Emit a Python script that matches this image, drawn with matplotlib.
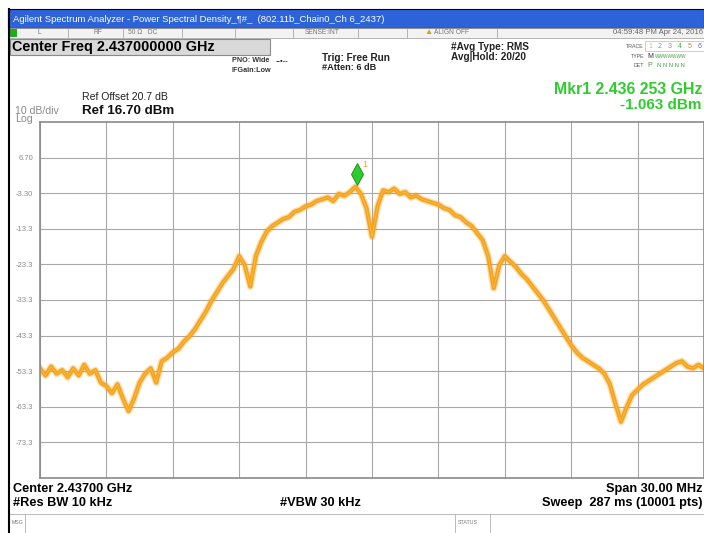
import matplotlib
matplotlib.use("Agg")
import matplotlib.pyplot as plt
import matplotlib.transforms as mtransforms
from matplotlib.patches import Rectangle
import numpy as np

W, H = 704, 533

# PSD trace, every 0.25 MHz starting at 2.422 GHz
offset_mhz = np.arange(0, 30.01, 0.25)
level_dbm = [
    -52.5, -54.5, -52.0, -54.0, -53.0, -55.0, -52.5, -54.5, -51.5, -54.0,
    -53.0, -56.5, -57.5, -59.5, -57.0, -61.0, -64.5, -61.0, -56.5, -54.0,
    -52.5, -56.5, -50.5, -49.5, -48.0, -47.0, -45.0, -43.5, -41.5, -39.0,
    -36.5, -33.5, -31.0, -28.5, -26.5, -24.5, -21.0, -23.5, -29.5, -21.0,
    -17.0, -14.0, -12.5, -11.5, -10.5, -10.0, -8.5, -8.0, -7.0, -6.5,
    -5.5, -5.0, -4.5, -5.5, -3.5, -4.0, -3.0, -1.5, -3.5, -7.5,
    -15.5, -7.0, -2.5, -3.0, -2.0, -3.5, -3.0, -4.5, -4.0, -5.0,
    -5.5, -6.0, -6.5, -7.5, -8.0, -9.5, -10.0, -11.5, -12.5, -14.5,
    -16.5, -21.0, -30.0, -23.5, -21.0, -22.5, -24.0, -26.0, -27.5, -29.5,
    -31.5, -33.5, -36.0, -38.5, -41.0, -43.5, -46.0, -48.0, -49.5, -50.5,
    -51.5, -52.5, -54.0, -57.0, -62.5, -67.5, -63.5, -60.0, -58.5, -57.0,
    -56.0, -55.0, -54.0, -53.0, -52.0, -51.0, -50.5, -52.0, -52.5, -51.5,
    -52.5,
]

center_ghz = 2.437
span_mhz = 30.0
ref_dbm = 16.70
db_per_div = 10
ytick_labels = ["6.70", "-3.30", "-13.3", "-23.3", "-33.3", "-43.3", "-53.3", "-63.3", "-73.3"]
mkr_freq_ghz = 2.436253
mkr_level_dbm = -1.063

TRACE = "#f5a31a"
GREEN = "#2ecc2e"
GRID = "#a8a8a8"
FONT = "Liberation Sans"

plt.rcParams["font.family"] = [FONT, "DejaVu Sans"]

fig = plt.figure(figsize=(W / 100, H / 100), dpi=100)
fig.patch.set_facecolor("white")


def fx(x):
    return x / W


def fy(y):
    return 1 - y / H


def txt(x, y, s, **kw):
    kw.setdefault("va", "center")
    fig.text(fx(x), fy(y), s, **kw)


def box(x0, y0, x1, y1, **kw):
    fig.patches.append(Rectangle((fx(x0), fy(y1)), (x1 - x0) / W, (y1 - y0) / H,
                                 transform=fig.transFigure, **kw))


# window chrome
box(8, 9, 704, 28, facecolor="#2d63d9", edgecolor="black", lw=0.8)
txt(13, 19, "Agilent Spectrum Analyzer - Power Spectral Density_\u00b6#_  (802.11b_Chain0_Ch 6_2437)",
    color="white", fontsize=6.8)
box(8, 28, 704, 38, facecolor="#f2f2f2", edgecolor="#9a9a9a", lw=0.5)
box(10, 29.5, 17, 36.5, facecolor="#22aa22", edgecolor="none")
for sx in (68, 123, 182, 235, 293, 358, 407, 497):
    fig.add_artist(plt.Line2D([fx(sx), fx(sx)], [fy(29), fy(37)], color="#9a9a9a", lw=0.5))
txt(38, 33, "L", color="#777777", fontsize=4.8)
txt(93, 33, "RF", color="#777777", fontsize=4.8)
txt(128, 33, "50 \u03a9   DC", color="#777777", fontsize=4.8)
txt(305, 33, "SENSE:INT", color="#777777", fontsize=4.8)
txt(424, 33, "\u25b2", color="#d9a400", fontsize=6)
txt(434, 33, "ALIGN OFF", color="#777777", fontsize=4.8)
txt(703, 33, "04:59:48 PM Apr 24, 2016", color="#666666", fontsize=5.6, ha="right")
fig.add_artist(plt.Line2D([fx(8.5), fx(8.5)], [fy(9), fy(533)], color="black", lw=1.5))

# settings panel
box(10, 39, 270, 55, facecolor="#d9d9d9", edgecolor="#8a8a8a", lw=0.8)
txt(12, 47, "Center Freq 2.437000000 GHz", fontsize=10.4, fontweight="bold")
txt(232, 61, "PNO: Wide", fontsize=5.2, fontweight="bold", color="#333333")
txt(232, 71, "IFGain:Low", fontsize=5.2, fontweight="bold", color="#333333")
txt(276, 61, "--\u2022--", fontsize=5.5, fontweight="bold", color="#333333")
txt(322, 58, "Trig: Free Run", fontsize=7.2, fontweight="bold", color="#222222")
txt(322, 68, "#Atten: 6 dB", fontsize=6.6, fontweight="bold", color="#222222")
txt(451, 47, "#Avg Type: RMS", fontsize=7.2, fontweight="bold", color="#222222")
txt(451, 57, "Avg|Hold: 20/20", fontsize=7.2, fontweight="bold", color="#222222")
txt(644, 46, "TRACE", fontsize=3.8, color="#555555", ha="right")
txt(644, 56, "TYPE", fontsize=3.8, color="#555555", ha="right")
txt(644, 66, "DET", fontsize=3.8, color="#555555", ha="right")
box(645, 41, 704, 51, facecolor="none", edgecolor="#bbbbbb", lw=0.5)
trace_cols = ["#e0c060", "#5aa0e0", "#d060d0", "#40b040", "#c09030", "#6060e0"]
for i, c in enumerate(trace_cols):
    txt(648 + i * 10, 46, str(i + 1), fontsize=5, color=c)
txt(647, 56, "M", fontsize=5, color="#333333")
txt(655, 56, "WWWWWWW", fontsize=3.4, color="#40a040")
txt(647, 66, "P", fontsize=5, color="#40a040")
txt(657, 66, "N N N N N", fontsize=4.2, color="#40a040")
txt(703, 90, "Mkr1 2.436 253 GHz", fontsize=11.4, fontweight="bold", color=GREEN, ha="right")
txt(701, 105, "-1.063 dBm", fontsize=11, fontweight="bold", color=GREEN, ha="right")
txt(82, 97, "Ref Offset 20.7 dB", fontsize=7.6, color="#222222")
txt(82, 111, "Ref 16.70 dBm", fontsize=9.6, fontweight="bold", color="#111111")
txt(15, 111, "10 dB/div", fontsize=7.6, color="#8a8a8a")
txt(15, 119.5, "Log", fontsize=7.6, color="#8a8a8a")

# graticule + trace
ax = fig.add_axes([fx(40), fy(478), 664 / W, 356 / H])
freq_ghz = center_ghz - span_mhz / 2000 + offset_mhz / 1000
ax.plot(freq_ghz, level_dbm, color=TRACE, lw=5.0, alpha=0.35, solid_joinstyle="round")
ax.plot(freq_ghz, level_dbm, color=TRACE, lw=3.0, solid_joinstyle="round")
ax.plot(freq_ghz, level_dbm, color="#f8c060", lw=0.6, alpha=0.8)

ax.set_xlim(center_ghz - span_mhz / 2000, center_ghz + span_mhz / 2000)
ax.set_ylim(ref_dbm - 10 * db_per_div, ref_dbm)
ax.set_xticks(np.linspace(center_ghz - span_mhz / 2000, center_ghz + span_mhz / 2000, 11))
ax.set_xticklabels([])
ax.set_yticks([ref_dbm - db_per_div * (k + 1) for k in range(9)])
ax.set_yticklabels(ytick_labels)
ax.tick_params(length=0, labelsize=5.5, labelcolor="#8a8a8a", pad=5)
ax.grid(color=GRID, lw=0.8)
ax.set_axisbelow(True)
for s in ax.spines.values():
    s.set_color("#8a8a8a")
    s.set_linewidth(1.2)

# marker 1
shifted = mtransforms.offset_copy(ax.transData, fig=fig, x=1, y=8, units="points")
ax.plot(mkr_freq_ghz, mkr_level_dbm, marker="d", markersize=11, color=GREEN,
        markeredgecolor="#138a13", markeredgewidth=0.6, transform=shifted, clip_on=False)
ax.annotate("1", xy=(mkr_freq_ghz, mkr_level_dbm), xytext=(7, 15), textcoords="offset points",
            color=TRACE, fontsize=6.5, ha="center", va="center")

# bottom annotations
txt(13, 489, "Center 2.43700 GHz", fontsize=9.2, fontweight="bold")
txt(13, 503, "#Res BW 10 kHz", fontsize=9.2, fontweight="bold")
txt(280, 503, "#VBW 30 kHz", fontsize=9.2, fontweight="bold")
txt(703, 489, "Span 30.00 MHz", fontsize=9.2, fontweight="bold", ha="right")
txt(703, 503, "Sweep  287 ms (10001 pts)", fontsize=9.2, fontweight="bold", ha="right")

box(8, 514, 704, 533, facecolor="white", edgecolor="#b0b0b0", lw=0.6)
for sx in (25, 455, 490):
    fig.add_artist(plt.Line2D([fx(sx), fx(sx)], [fy(514), fy(533)], color="#b0b0b0", lw=0.6))
txt(12, 523, "MSG", fontsize=3.8, color="#777777")
txt(458, 523, "STATUS", fontsize=3.8, color="#777777")

fig.savefig("out.png", dpi=100)
